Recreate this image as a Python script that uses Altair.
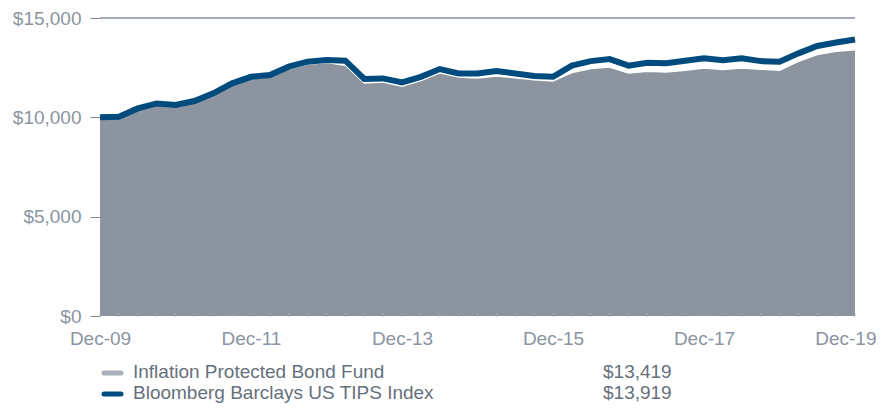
import altair as alt
import pandas as pd

quarters = list(range(41))
fund = [10000, 10020, 10390, 10640, 10560, 10760, 11150, 11640, 11970, 12050,
        12450, 12690, 12770, 12640, 11740, 11790, 11580, 11870, 12250, 12040,
        11990, 12090, 12010, 11910, 11840, 12265, 12466, 12547, 12245, 12330,
        12295, 12380, 12496, 12416, 12496, 12431, 12380, 12833, 13170, 13336, 13419]
index = [10000, 10030, 10450, 10700, 10620, 10820, 11210, 11710, 12040, 12130,
         12550, 12800, 12880, 12850, 11930, 11960, 11760, 12040, 12430, 12210,
         12210, 12330, 12210, 12080, 12040, 12600, 12830, 12930, 12600, 12750,
         12720, 12850, 12970, 12880, 12970, 12830, 12800, 13220, 13590, 13770, 13919]
x_tick_values = [0, 8, 16, 24, 32, 40]
y_tick_values = [0, 5000, 10000, 15000]
series_names = ["Inflation Protected Bond Fund", "Bloomberg Barclays US TIPS Index"]
final_values = ["$13,419", "$13,919"]

TEXT = "#8a94a2"
LEGTEXT = "#66707c"
AREA = "#8b949f"
BLUE = "#004b7d"
FONT = "Liberation Sans"
FS = 19

df = pd.DataFrame({"q": quarters, "fund": fund, "index": index})

xscale = alt.Scale(domain=[0, 40], nice=False, zero=False)
yscale = alt.Scale(domain=[0, 15000], nice=False)

x_enc = alt.X("q:Q", scale=xscale, axis=alt.Axis(
    values=x_tick_values, labelExpr="'Dec-' + format(9 + datum.value / 4, '02d')",
    domain=False, ticks=False, grid=False, labelPadding=13, labelFontSize=FS,
    labelFont=FONT, labelColor=TEXT, title=None, labelFlush=False,
    labelAlign={"expr": "datum.value == 40 ? 'right' : 'center'"},
    labelOffset={"expr": "datum.value == 40 ? 21 : 0"}))
y_enc = alt.Y("fund:Q", scale=yscale, axis=alt.Axis(
    values=y_tick_values, format="$,.0f", domain=False, grid=False,
    tickSize=10, tickColor="#7d8793", labelPadding=9, labelFontSize=FS,
    labelFont=FONT, labelColor=TEXT, title=None))

base = alt.Chart(df)

area = base.mark_area(color=AREA, opacity=1).encode(x=x_enc, y=y_enc)
fund_edge = base.mark_line(color="white", strokeWidth=2).encode(x="q:Q", y="fund:Q")
qticks = base.mark_tick(color="#a6adb6", orient="vertical", size=4, thickness=1).encode(
    x="q:Q", y=alt.value(297))
index_line = base.mark_line(color=BLUE, strokeWidth=6, strokeJoin="miter").encode(
    x="q:Q", y="index:Q")

top_df = pd.DataFrame({"v": [15000]})
top_rule = alt.Chart(top_df).mark_rule(color="#4e5b6a", strokeWidth=1).encode(y="v:Q")

leg_df = pd.DataFrame({"name": series_names, "value": final_values,
                       "color": ["#a9b0b9", BLUE]})
layers = [area, fund_edge, qticks, index_line, top_rule]
row_y = [354, 375]
for i in range(2):
    sub = alt.Chart(leg_df.iloc[[i]])
    layers.append(sub.mark_rule(color=leg_df["color"][i], strokeWidth=5, strokeCap="round").encode(
        x=alt.value(4), x2=alt.value(21), y=alt.value(row_y[i] + 1)))
    layers.append(sub.mark_text(align="left", baseline="middle", font=FONT, fontSize=FS,
                                color=LEGTEXT).encode(
        x=alt.value(33), y=alt.value(row_y[i]), text="name:N"))
    layers.append(sub.mark_text(align="left", baseline="middle", font=FONT, fontSize=FS,
                                color=LEGTEXT).encode(
        x=alt.value(503), y=alt.value(row_y[i]), text="value:N"))

chart = alt.layer(*layers).properties(
    width=755, height=298,
    autosize=alt.AutoSizeParams(type="none"),
    padding={"left": 92, "top": 10, "right": 22, "bottom": 87},
).configure_view(stroke=None)

chart.save("out.html", embed_options={"renderer": "svg", "actions": False})
